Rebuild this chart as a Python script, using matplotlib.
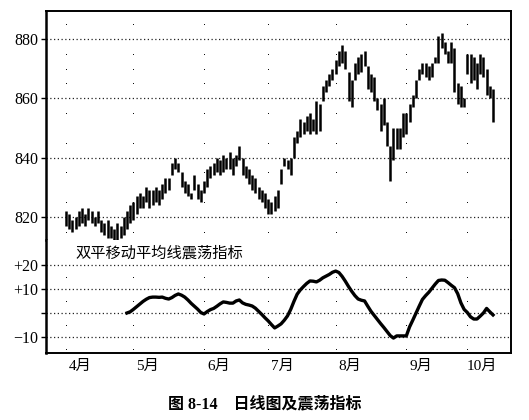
"""Daily bar chart with a dual moving-average oscillator underneath (fig 8-14)."""
import matplotlib
matplotlib.use("Agg")
import matplotlib.pyplot as plt

plt.rcParams["font.family"] = ["Liberation Serif", "Noto Sans CJK SC", "DejaVu Sans"]

# daily highs / lows, one per trading day (index 0 = first day of April)
HIGH = [822, 821, 819, 820, 822, 823, 821, 823, 822, 820, 822, 819, 818, 819, 817, 816, 818, 817, 820, 822, 824,
        825, 827, 828, 827, 830, 829, 829, 830, 829, 831, 833, 833, 838, 840, 838, 835, 832, 831, 828, 834, 831, 829,
        832, 836, 837, 838, 840, 839, 841, 840, 842, 840, 841, 844, 840, 837, 836, 834, 833, 830, 829, 828,
        826, 825, 827, 829, 836, 840, 839, 840, 847, 849, 853, 852, 854, 855, 853, 859, 858, 864, 866, 868, 870,
        873, 876, 878, 876, 869, 866, 872, 874, 875, 876, 871, 868, 867, 860, 858, 860, 852, 844, 850, 850, 850, 855,
        855, 858, 861, 866, 870, 872, 872, 871, 872, 874, 881, 882, 879, 876, 879, 877, 865, 864, 860,
        875, 875, 874, 872, 875, 874, 870, 864, 863]
LOW = [817, 816, 815, 816, 817, 818, 817, 819, 818, 817, 818, 815, 814, 813, 813, 812, 812, 813, 814, 816, 818,
       819, 821, 823, 823, 825, 823, 824, 825, 824, 826, 828, 829, 834, 836, 835, 830, 828, 827, 826, 829, 826, 825,
       828, 830, 833, 834, 835, 834, 835, 836, 836, 834, 837, 839, 834, 833, 831, 829, 828, 826, 825, 823,
       821, 821, 822, 823, 831, 837, 836, 834, 840, 845, 847, 848, 849, 848, 849, 848, 849, 859, 862, 864, 866,
       868, 871, 872, 870, 859, 857, 866, 868, 869, 871, 863, 862, 859, 856, 849, 851, 844, 832, 839, 843, 843, 847,
       848, 852, 857, 860, 866, 868, 867, 866, 867, 872, 872, 877, 875, 872, 872, 862, 858, 857, 857,
       868, 865, 866, 863, 868, 867, 861, 860, 852]

# oscillator, starts on day 19
OSC_START = 19
OSC = [0.0, 0.5, 1.5, 2.6, 3.7, 4.8, 5.7, 6.4, 6.6, 6.6, 6.5, 6.6, 6.1, 5.8, 6.4, 7.3, 7.9, 7.4, 6.6, 5.4,
       4.0, 2.8, 1.6, 0.2, -0.4, 0.6, 1.4, 1.9, 2.8, 3.8, 4.6, 4.4, 4.1, 4.1, 5.0, 5.4, 4.2, 3.6, 3.3, 2.9,
       2.0, 0.7, -0.6, -2.0, -3.3, -4.8, -6.2, -5.4, -4.5, -3.0, -1.2, 1.5, 4.8, 7.8, 9.6, 11.0, 12.3, 13.3,
       13.2, 12.9, 13.6, 14.6, 15.3, 16.0, 16.9, 17.4, 16.8, 15.2, 13.2, 11.0, 9.0, 7.2, 5.8, 5.3, 5.0, 2.8,
       0.7, -1.0, -2.7, -4.4, -6.0, -7.7, -9.4, -10.4, -9.5, -9.5, -9.5, -9.5, -5.8, -3.0, -0.1, 2.8, 5.6,
       7.2, 8.6, 10.3, 12.0, 13.5, 13.7, 13.6, 12.6, 11.5, 10.5, 8.0, 4.2, 1.5, 0.2, -1.6, -2.5, -2.5, -1.3,
       0.0, 1.9, 0.5, -0.8]

MONTH_START = [0, 21, 43, 63, 84, 106, 125]
MONTHS = ["4月", "5月", "6月", "7月", "8月", "9月", "10月"]
PRICE_TICKS = [820, 840, 860, 880]
PRICE_DOTS = [815, 825, 835, 845, 855, 865, 870, 875, 885]
OSC_TICKS = [20, 10, 0, -10]
OSC_LABELS = ["+20", "+10", "", "\u221210"]
OSC_DOTS = [15, 5, -5, -15]

fig = plt.figure(figsize=(5.29, 4.20), dpi=100)
ax1 = fig.add_axes([0.087, 0.4286, 0.879, 0.5452])
ax2 = fig.add_axes([0.087, 0.1595, 0.879, 0.2691], sharex=ax1)

days = list(range(len(HIGH)))
ax1.vlines(days, LOW, HIGH, color="black", lw=1.8)
ax2.plot(range(OSC_START, OSC_START + len(OSC)), OSC, color="black", lw=2.4, solid_joinstyle="round")

ax1.set_ylim(812.2, 889.4)
ax2.set_ylim(-16.6, 30.3)
ax1.set_xlim(-6.2, 138.6)

dot = dict(color="#222", lw=0.9, ls=(0, (1, 2)), zorder=0)
for v in PRICE_TICKS:
    ax1.axhline(v, **dot)
for v in OSC_TICKS:
    ax2.axhline(v, **dot)

# sparse vertical dots at month starts
for m in MONTH_START:
    ax1.scatter([m] * len(PRICE_DOTS), PRICE_DOTS, s=0.5, color="black", lw=0, zorder=0)
    ax2.scatter([m] * len(OSC_DOTS), OSC_DOTS, s=0.5, color="black", lw=0, zorder=0)

ax1.set_yticks(PRICE_TICKS)
ax2.set_yticks(OSC_TICKS)
ax2.set_yticklabels(OSC_LABELS)
for ax in (ax1, ax2):
    ax.tick_params(axis="y", length=3.5, width=1, pad=2, labelsize=11.5)
    for s in ax.spines.values():
        s.set_linewidth(1.4)
    ax.spines["left"].set_linewidth(1.8)
ax1.spines["bottom"].set_visible(False)
ax2.spines["top"].set_visible(False)
ax1.tick_params(axis="x", bottom=False, labelbottom=False)
ax2.set_xticks([m + 4.5 for m in MONTH_START])
ax2.set_xticklabels(MONTHS)
ax2.tick_params(axis="x", length=0, pad=5, labelsize=11)

ax2.text(3, 25, "双平移动平均线震荡指标", fontsize=11, va="center", ha="left",
         family=["Noto Sans CJK SC", "DejaVu Sans"])
fig.text(0.5, 0.038, "图 8-14    日线图及震荡指标", ha="center", va="center",
         fontsize=11.5, fontweight="bold")

fig.savefig("out.png", dpi=100)
